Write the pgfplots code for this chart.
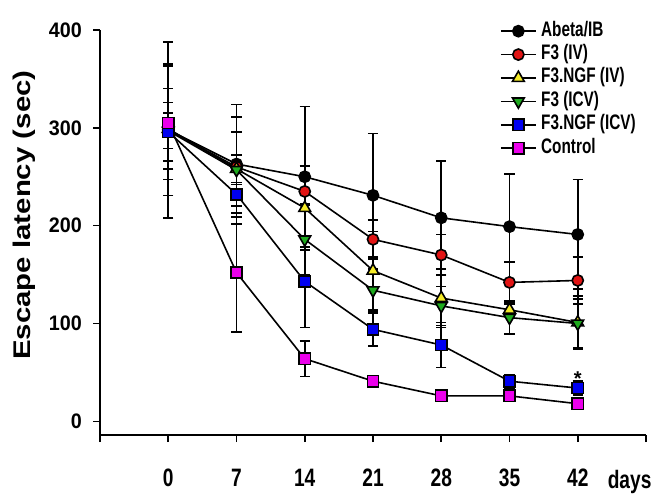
\documentclass[border=0pt]{standalone}
\usepackage{graphicx}
\usepackage{pgfplots}
\pgfplotsset{compat=1.18}
\usepackage{fontspec}
\setmainfont{Liberation Sans}
\newfontfamily\xtfont{Liberation Sans}[FakeStretch=0.76]
\newfontfamily\ytfont{Liberation Sans}[FakeStretch=0.94]
\newfontfamily\lgfont{Liberation Sans}[FakeStretch=0.73]

\definecolor{cred}{RGB}{225,20,20}
\definecolor{cyel}{RGB}{245,235,40}
\definecolor{cgrn}{RGB}{30,170,30}
\definecolor{cblu}{RGB}{0,0,240}
\definecolor{cmag}{RGB}{235,0,235}

\pgfplotsset{
  eb/.style={
    black, line width=0.8pt, mark size=2.8pt,
    error bars/y dir=both, error bars/y explicit,
    error bars/error bar style={line width=0.8pt, black},
    error bars/error mark options={rotate=90, mark size=2.6pt, line width=0.8pt, black}
  }
}

\begin{document}
\begin{tikzpicture}
\begin{axis}[
  name=ax,
  scale only axis, width=273pt, height=202.5pt,
  xmin=-7, xmax=49, ymin=-14, ymax=400,
  axis x line*=bottom, axis y line*=left,
  axis line style={line width=0.9pt, -},
  tick align=outside, major tick length=3.5pt,
  tick style={line width=0.8pt, black},
  xtick={-7,0,...,49},
  xticklabels={{},0,7,14,21,28,35,42,{}},
  xticklabel style={font=\xtfont\bfseries\fontsize{12.6}{14}\selectfont, yshift=-10pt},
  ytick={0,100,...,400},
  /pgf/number format/assume math mode=true,
  yticklabel style={font=\ytfont\bfseries\fontsize{10.5}{12}\selectfont, xshift=-2pt},
  ylabel={\scalebox{1}[0.82]{Escape latency (sec)}},
  ylabel style={at={(axis description cs:-0.139,0.543)}, anchor=center,
    font=\bfseries\fontsize{14.7}{16}\selectfont},
  xlabel={days},
  xlabel style={at={(axis description cs:0.917,-0.133)}, anchor=base west,
    font=\xtfont\bfseries\fontsize{12.6}{14}\selectfont},
  legend style={at={(axis description cs:0.732,1.027)}, anchor=north west,
    draw=none, fill=none, inner sep=0pt, row sep=0pt,
    nodes={inner ysep=1pt, inner xsep=2.25pt, text height=7.3pt, text depth=2.4pt},
    font=\lgfont\bfseries\fontsize{10.5}{11}\selectfont},
  legend cell align=left,
  legend image code/.code={
    \draw[mark repeat=2, mark phase=2] plot coordinates {(0pt,0pt) (8.75pt,0pt) (17.5pt,0pt)};
  },
  clip=false,
]
\addplot[eb, mark=*, mark options={fill=black, draw=black}] coordinates {
  (0,298) +- (0,90) (7,263) +- (0,61) (14,250) +- (0,72) (21,231) +- (0,63)
  (28,208) +- (0,58) (35,199) +- (0,54) (42,191) +- (0,56)};
\addlegendentry{Abeta/IB}
\addplot[eb, mark=*, mark options={fill=cred, draw=black}] coordinates {
  (0,298) +- (0,67) (7,260) +- (0,51) (14,235) +- (0,14) (21,186) +- (0,20)
  (28,170) +- (0,21) (35,142) +- (0,21) (42,144) +- (0,24)};
\addlegendentry{F3 (IV)}
\addplot[eb, mark=triangle*, mark size=3.4pt, mark options={fill=cyel, draw=black}] coordinates {
  (0,299) +- (0,41) (7,258) +- (0,38) (14,218) +- (0,43) (21,154) +- (0,40)
  (28,126) +- (0,30) (35,114) +- (0,6) (42,101) +- (0,27)};
\addlegendentry{F3.NGF (IV)}
\addplot[eb, mark=triangle*, mark size=3.4pt, mark options={fill=cgrn, draw=black, rotate=180}] coordinates {
  (0,297) +- (0,18) (7,257) +- (0,15) (14,186) +- (0,36) (21,134) +- (0,22)
  (28,118) +- (0,20) (35,106) +- (0,17) (42,100) +- (0,25)};
\addlegendentry{F3 (ICV)}
\addplot[eb, mark=square*, mark options={fill=cblu, draw=black}] coordinates {
  (0,296) +- (0,30) (7,232) +- (0,12) (14,143) +- (0,47) (21,94) +- (0,17)
  (28,78) +- (0,23) (35,41) +- (0,7) (42,34) +- (0,7)};
\addlegendentry{F3.NGF (ICV)}
\addplot[eb, mark=square*, mark options={fill=cmag, draw=black}] coordinates {
  (0,305) +- (0,58) (7,152) +- (0,61) (14,64) +- (0,18) (21,41) +- (0,5)
  (28,26) +- (0,5) (35,26) +- (0,4) (42,18) +- (0,5)};
\addlegendentry{Control}
\node[font=\bfseries\fontsize{10}{11}\selectfont] at (axis cs:42,44) {*};
\coordinate (bl) at (rel axis cs:0,0);
\coordinate (tr) at (rel axis cs:1,1);
\end{axis}
\pgfresetboundingbox
\path[use as bounding box] ([shift={(-50pt,-29.5pt)}]bl) rectangle ([shift={(10pt,15pt)}]tr);
\end{tikzpicture}
\end{document}
